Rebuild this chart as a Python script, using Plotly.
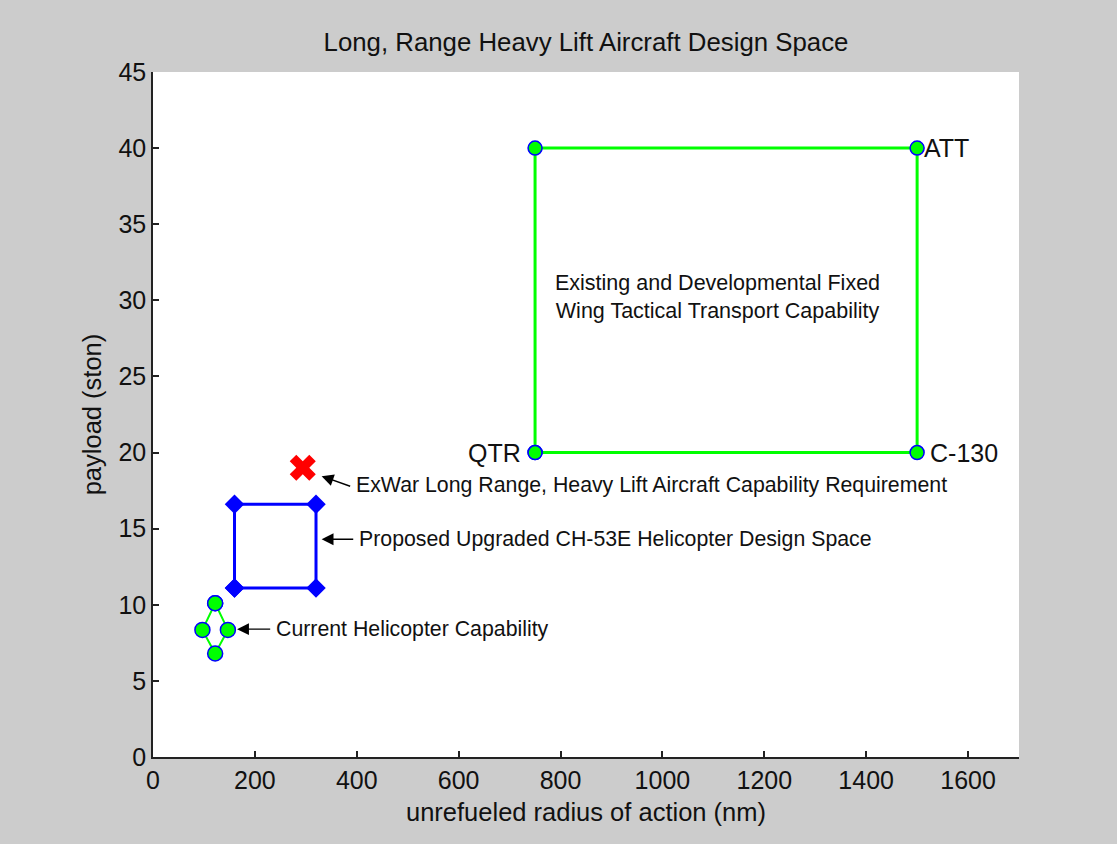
import plotly.graph_objects as go

# Fixed-wing tactical transport design space (corners)
fw_x = [750, 1500, 1500, 750, 750]
fw_y = [20, 20, 40, 40, 20]
fw_labels = [("QTR", 750, 20, "right", -12), ("C-130", 1500, 20, "left", 11), ("ATT", 1500, 40, "left", 5)]

# Proposed upgraded CH-53E design space
ch_x = [160, 320, 320, 160, 160]
ch_y = [11.1, 11.1, 16.6, 16.6, 11.1]

# Current helicopter capability
cur_x = [122, 147, 122, 97, 122]
cur_y = [10.1, 8.35, 6.8, 8.35, 10.1]

# ExWar requirement
req_x = [294]
req_y = [19.0]

FONT = "Liberation Sans, Arial, sans-serif"

fig = go.Figure()
fig.add_trace(go.Scatter(x=fw_x, y=fw_y, mode="lines+markers",
                         line=dict(color="#00ff00", width=3),
                         marker=dict(symbol="circle", size=14, color="#00ff00",
                                     line=dict(color="#0000ff", width=1.5))))
fig.add_trace(go.Scatter(x=ch_x, y=ch_y, mode="lines+markers",
                         line=dict(color="#0000ff", width=3),
                         marker=dict(symbol="diamond", size=15, color="#0000ff",
                                     line=dict(color="#0000ff", width=0))))
fig.add_trace(go.Scatter(x=cur_x, y=cur_y, mode="lines+markers",
                         line=dict(color="#00ff00", width=2),
                         marker=dict(symbol="circle", size=15, color="#00ff00",
                                     line=dict(color="#0000ff", width=1.5))))
fig.add_trace(go.Scatter(x=req_x, y=req_y, mode="markers",
                         marker=dict(symbol="x", size=23, color="#ff0000",
                                     line=dict(width=0))))

ann = []
for txt, x, y, side, shift in fw_labels:
    ann.append(dict(x=x, y=y, xref="x", yref="y", text=txt, showarrow=False,
                    xanchor=side, yanchor="middle", xshift=shift,
                    font=dict(family=FONT, size=25, color="#111")))

ann.append(dict(x=1108, y=30.2, xref="x", yref="y",
                text="Existing and Developmental Fixed<br>Wing Tactical Transport Capability",
                showarrow=False, xanchor="center", yanchor="middle",
                font=dict(family=FONT, size=21.5, color="#111")))

arrows = [
    # head x, head y, tail x, tail y, text x, text y, text
    (165, 8.4, 233, 8.4, 238, 8.4, "Current Helicopter Capability"),
    (331, 14.3, 396, 14.3, 400, 14.3, "Proposed Upgraded CH-53E Helicopter Design Space"),
    (331, 18.45, 390, 17.75, 394, 17.85, "ExWar Long Range, Heavy Lift Aircraft Capability Requirement"),
]
for hx, hy, tx, ty, lx, ly, txt in arrows:
    ann.append(dict(x=hx, y=hy, ax=tx, ay=ty, xref="x", yref="y", axref="x", ayref="y",
                    text="", showarrow=True, arrowhead=2, arrowsize=1.7, arrowwidth=1.4,
                    arrowcolor="#000"))
    ann.append(dict(x=lx, y=ly, xref="x", yref="y", text=txt, showarrow=False,
                    xanchor="left", yanchor="middle",
                    font=dict(family=FONT, size=21.3, color="#111")))

fig.update_layout(
    width=1117, height=844,
    paper_bgcolor="#cccccc", plot_bgcolor="#ffffff",
    margin=dict(l=153, r=98, t=72, b=87),
    showlegend=False,
    title=dict(text="Long, Range Heavy Lift Aircraft Design Space",
               x=(153 + 1019) / 2 / 1117, xanchor="center",
               y=1 - 42 / 844, yanchor="middle", yref="container",
               font=dict(family=FONT, size=25.8, color="#111")),
    annotations=ann,
)
fig.update_xaxes(range=[0, 1700], tickmode="array", tickvals=list(range(0, 1700, 200)),
                 ticks="inside", ticklen=6, tickwidth=1.5, tickcolor="#222",
                 showline=True, linecolor="#222", linewidth=1.5, showgrid=False, zeroline=False,
                 tickfont=dict(family=FONT, size=25, color="#111"),
                 title=dict(text="unrefueled radius of action (nm)", standoff=10,
                            font=dict(family=FONT, size=25.5, color="#111")))
fig.update_yaxes(range=[0, 45], tickmode="array", tickvals=list(range(0, 46, 5)),
                 ticks="inside", ticklen=6, tickwidth=1.5, tickcolor="#222",
                 showline=True, linecolor="#222", linewidth=1.5, showgrid=False, zeroline=False,
                 tickfont=dict(family=FONT, size=25, color="#111"),
                 title=dict(text="payload (ston)", standoff=10,
                            font=dict(family=FONT, size=25.5, color="#111")))

fig.write_html("out.html", config={"displayModeBar": False},
               post_script="document.body.style.margin='0';document.body.style.background='#cccccc';"
                           "window.dispatchEvent(new Event('resize'));")
